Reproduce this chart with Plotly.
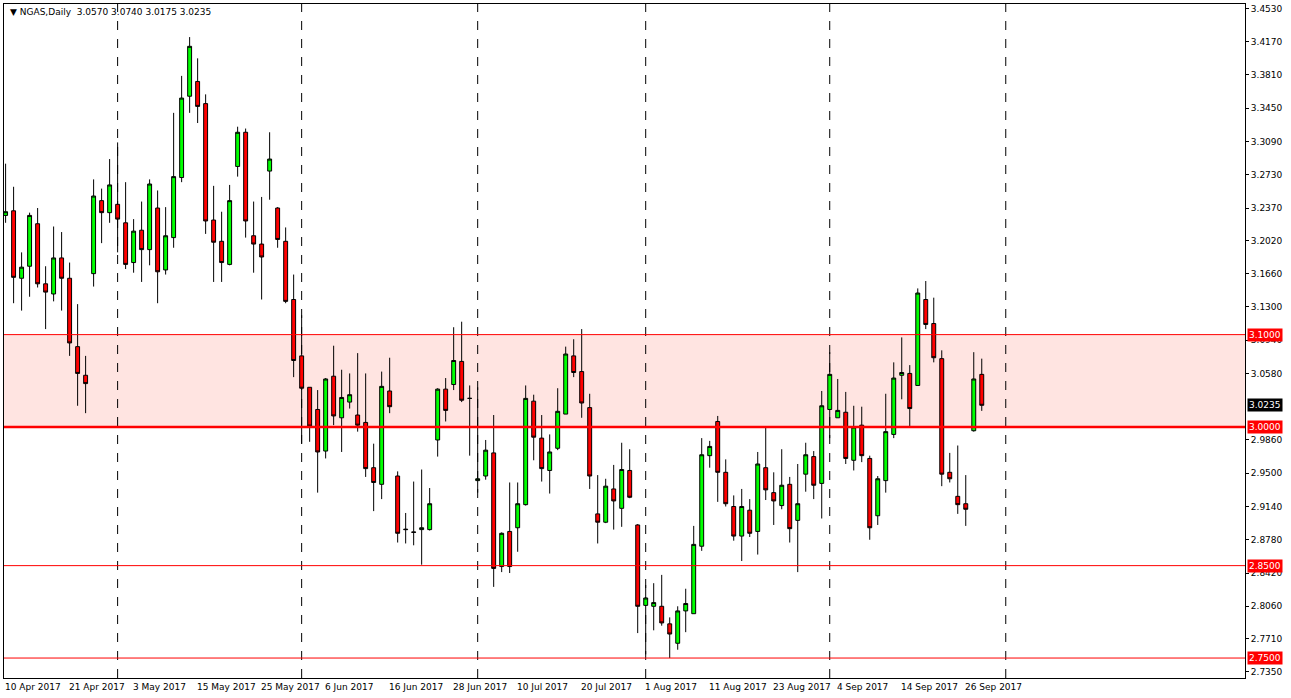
import plotly.graph_objects as go

# NGAS daily, bar by bar
opens = [3.229, 3.234, 3.161, 3.174, 3.220, 3.155, 3.144, 3.183, 3.161, 3.087,
         3.056, 3.166, 3.245, 3.232, 3.241, 3.221, 3.178, 3.213, 3.192, 3.237,
         3.170, 3.205, 3.270, 3.358, 3.374, 3.350, 3.224, 3.201, 3.176, 3.282,
         3.319, 3.207, 3.198, 3.277, 3.237, 3.201, 3.138, 3.077, 3.043, 3.019,
         2.974, 3.055, 3.010, 3.027, 3.013, 3.005, 2.956, 2.938, 3.039, 2.947,
         2.8895, 2.8865, 2.889, 2.889, 2.986, 3.041, 3.046, 3.071, 3.031, 2.942,
         2.947, 2.972, 2.849, 2.887, 2.891, 2.916, 3.028, 2.988, 2.953, 2.977,
         3.014, 3.077, 3.060, 3.021, 2.906, 2.897, 2.933, 2.912, 2.953, 2.894,
         2.807, 2.806, 2.806, 2.787, 2.766, 2.801, 2.798, 2.871, 2.969, 3.006,
         2.951, 2.914, 2.882, 2.910, 2.887, 2.956, 2.929, 2.915, 2.938, 2.899,
         2.949, 2.968, 2.939, 3.019, 3.010, 3.016, 2.964, 3.002, 2.966, 2.904,
         2.942, 2.992, 3.056, 3.058, 3.045, 3.138, 3.112, 3.074, 2.951, 2.925,
         2.917, 2.996, 3.057]
highs = [3.285, 3.260, 3.189, 3.232, 3.237, 3.174, 3.217, 3.211, 3.178, 3.133,
         3.077, 3.268, 3.258, 3.290, 3.308, 3.265, 3.225, 3.244, 3.268, 3.256,
         3.238, 3.340, 3.380, 3.422, 3.399, 3.360, 3.261, 3.233, 3.262, 3.325,
         3.323, 3.244, 3.249, 3.319, 3.238, 3.216, 3.165, 3.121, 3.043, 3.040,
         3.053, 3.088, 3.062, 3.058, 3.080, 3.058, 2.982, 3.060, 3.075, 2.952,
         2.907, 2.941, 2.954, 2.934, 3.042, 3.053, 3.108, 3.114, 3.045, 3.043,
         2.986, 3.013, 2.886, 2.940, 2.940, 3.045, 3.035, 3.013, 2.992, 3.042,
         3.087, 3.095, 3.106, 3.036, 2.948, 2.944, 2.959, 2.983, 2.976, 2.895,
         2.829, 2.831, 2.840, 2.794, 2.806, 2.825, 2.893, 2.988, 2.985, 3.012,
         2.965, 2.926, 2.933, 2.922, 2.973, 2.999, 2.951, 2.976, 2.946, 2.960,
         2.983, 2.974, 3.039, 3.081, 3.052, 3.038, 3.023, 3.022, 2.969, 2.947,
         3.036, 3.070, 3.097, 3.067, 3.150, 3.158, 3.140, 3.083, 2.972, 2.980,
         2.948, 3.081, 3.074]
lows = [3.221, 3.134, 3.126, 3.141, 3.151, 3.106, 3.136, 3.126, 3.077, 3.023,
        3.015, 3.152, 3.199, 3.221, 3.189, 3.171, 3.167, 3.157, 3.175, 3.134,
        3.165, 3.194, 3.265, 3.340, 3.329, 3.209, 3.157, 3.157, 3.175, 3.271,
        3.205, 3.167, 3.138, 3.246, 3.194, 3.134, 3.054, 2.982, 2.984, 2.929,
        2.966, 3.002, 2.973, 3.020, 2.995, 2.946, 2.909, 2.922, 3.015, 2.875,
        2.874, 2.872, 2.851, 2.888, 2.968, 3.006, 3.040, 3.027, 2.969, 2.929,
        2.943, 2.827, 2.843, 2.842, 2.865, 2.915, 2.964, 2.941, 2.928, 2.975,
        3.014, 3.054, 3.010, 2.933, 2.874, 2.896, 2.889, 2.892, 2.923, 2.777,
        2.754, 2.780, 2.785, 2.750, 2.759, 2.778, 2.798, 2.866, 2.956, 2.919,
        2.914, 2.877, 2.855, 2.881, 2.862, 2.921, 2.894, 2.911, 2.875, 2.843,
        2.930, 2.922, 2.901, 2.988, 3.010, 2.960, 2.953, 2.962, 2.878, 2.894,
        2.929, 2.988, 3.030, 3.000, 3.045, 3.106, 3.070, 2.936, 2.940, 2.906,
        2.893, 2.995, 3.0175]
closes = [3.233, 3.162, 3.173, 3.229, 3.155, 3.146, 3.183, 3.161, 3.091, 3.058,
          3.047, 3.250, 3.232, 3.262, 3.225, 3.176, 3.212, 3.192, 3.263, 3.168,
          3.207, 3.271, 3.356, 3.412, 3.347, 3.223, 3.200, 3.178, 3.245, 3.319,
          3.223, 3.198, 3.184, 3.290, 3.203, 3.136, 3.072, 3.042, 3.001, 2.973,
          3.052, 3.012, 3.032, 3.035, 3.002, 2.955, 2.940, 3.044, 3.022, 2.885,
          2.889, 2.886, 2.891, 2.917, 3.041, 3.018, 3.072, 3.029, 3.031, 2.944,
          2.975, 2.847, 2.885, 2.849, 2.917, 3.031, 2.989, 2.955, 2.973, 3.017,
          3.079, 3.059, 3.026, 2.947, 2.897, 2.936, 2.920, 2.954, 2.924, 2.806,
          2.815, 2.810, 2.788, 2.776, 2.801, 2.809, 2.873, 2.970, 2.979, 2.951,
          2.917, 2.882, 2.914, 2.885, 2.960, 2.932, 2.920, 2.937, 2.890, 2.917,
          2.970, 2.937, 3.023, 3.057, 3.018, 2.966, 3.000, 2.969, 2.891, 2.944,
          2.995, 3.053, 3.059, 3.020, 3.145, 3.111, 3.075, 2.949, 2.944, 2.916,
          2.911, 3.052, 3.0235]

# date labels sit on every 8th bar
date_labels = ['10 Apr 2017', '21 Apr 2017', '3 May 2017', '15 May 2017', '25 May 2017',
               '6 Jun 2017', '16 Jun 2017', '28 Jun 2017', '10 Jul 2017', '20 Jul 2017',
               '1 Aug 2017', '11 Aug 2017', '23 Aug 2017', '4 Sep 2017', '14 Sep 2017',
               '26 Sep 2017']
date_bars = [i * 8 for i in range(len(date_labels))]
month_bars = [14, 37, 59, 80, 103, 125]  # period separators

price_ticks = [3.4530, 3.4170, 3.3810, 3.3450, 3.3090, 3.2730, 3.2370, 3.2020, 3.1660,
               3.1300, 3.0940, 3.0580, 2.9860, 2.9500, 2.9140, 2.8780, 2.8420,
               2.8060, 2.7710, 2.7350]
levels = [3.10, 3.00, 2.85, 2.75]
zone = (3.00, 3.10)

n = len(opens)
xs = list(range(n))
FONT = 'DejaVu Sans'

fig = go.Figure()
fig.add_trace(go.Candlestick(
    x=xs, open=opens, high=highs, low=lows, close=closes,
    increasing=dict(fillcolor='#00ff00', line=dict(color='black', width=1)),
    decreasing=dict(fillcolor='#ff0000', line=dict(color='black', width=1)),
    whiskerwidth=0, hoverinfo='skip', showlegend=False,
))

shapes = [dict(type='rect', xref='paper', x0=0, x1=1, yref='y', y0=zone[0], y1=zone[1],
               fillcolor='#ffe4e1', line=dict(width=0), layer='below')]
for b in month_bars:
    shapes.append(dict(type='line', xref='x', x0=b, x1=b, yref='paper', y0=0, y1=1,
                       line=dict(color='black', width=1, dash='dash'), layer='below'))
for lv in levels:
    w = 2.5 if lv == 3.00 else 1
    shapes.append(dict(type='line', xref='paper', x0=0, x1=1, yref='y', y0=lv, y1=lv,
                       line=dict(color='#ff0000', width=w), layer='above'))
fig.update_layout(shapes=shapes)

annotations = []
for b, lab in zip(date_bars, date_labels):
    annotations.append(dict(x=b, y=0, xref='x', yref='paper', yshift=-2, xshift=-3,
                            text=lab, showarrow=False, xanchor='left', yanchor='top',
                            font=dict(family=FONT, size=9, color='black')))
for lv in levels:
    annotations.append(dict(x=1, y=lv, xref='paper', yref='y', xanchor='left', xshift=2,
                            text=f'{lv:.4f}', showarrow=False, bgcolor='#ff0000',
                            font=dict(family=FONT, size=9, color='white'), borderpad=1))
annotations.append(dict(x=1, y=closes[-1], xref='paper', yref='y', xanchor='left', xshift=2,
                        text=f'{closes[-1]:.4f}', showarrow=False, bgcolor='black',
                        font=dict(family=FONT, size=9, color='white'), borderpad=1))
annotations.append(dict(x=0, y=1, xref='paper', yref='paper', xanchor='left', yanchor='top',
                        xshift=4, yshift=-1, showarrow=False,
                        text=f'▼ NGAS,Daily  {opens[-1]:.4f} {highs[-1]:.4f} {lows[-1]:.4f} {closes[-1]:.4f}',
                        font=dict(family=FONT, size=9, color='black')))

fig.update_layout(
    width=1291, height=698,
    margin=dict(l=4, r=46, t=4, b=20),
    paper_bgcolor='white', plot_bgcolor='white',
    annotations=annotations,
    xaxis=dict(range=[-0.2, 154.9], rangeslider=dict(visible=False), showgrid=False,
               showticklabels=False, zeroline=False, showline=True, linecolor='black',
               mirror=True),
    yaxis=dict(range=[2.7284, 3.4578], side='right', tickvals=price_ticks,
               ticktext=[f'{t:.4f}' for t in price_ticks], showgrid=False, zeroline=False,
               showline=True, linecolor='black', mirror=True, ticks='outside',
               ticklen=3, tickcolor='black',
               tickfont=dict(family=FONT, size=9, color='black')),
)

fig.write_html('out.html', config={'displayModeBar': False},
               post_script="document.body.style.margin='0';document.body.style.overflow='hidden';")
